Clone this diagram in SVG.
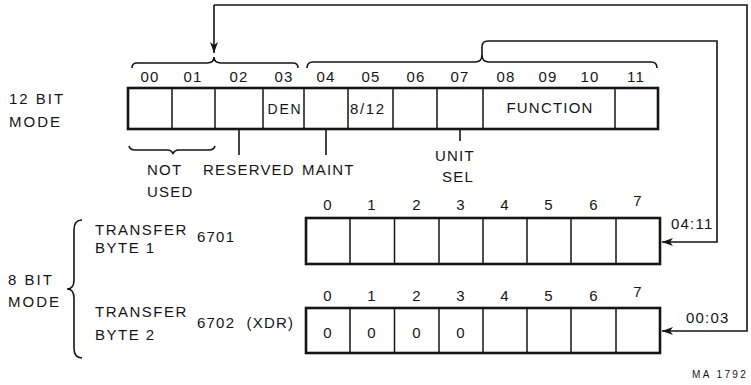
<svg xmlns="http://www.w3.org/2000/svg" width="751" height="385" viewBox="0 0 751 385">
<style>
text{font-family:"Liberation Sans",Arial,sans-serif;font-size:15px;fill:#151515;letter-spacing:1.2px}
.m{text-anchor:middle}
.box{fill:none;stroke:#151515;stroke-width:2.6}
.div{stroke:#151515;stroke-width:1.5;fill:none}
.ln{stroke:#151515;stroke-width:1.6;fill:none}
.wide{letter-spacing:2px}
.sm{font-size:10px;letter-spacing:2.4px}
</style>
<defs>
<marker id="ah" markerWidth="12" markerHeight="10" refX="11" refY="5" orient="auto" markerUnits="userSpaceOnUse">
<path d="M0,1 L11,5 L0,9 L3,5 Z" fill="#151515"/>
</marker>
</defs>
<rect width="751" height="385" fill="#fff"/>

<g id="mode-labels">
<text x="9" y="104" class="wide">12 BIT</text>
<text x="9" y="127" class="wide">MODE</text>
<text x="8" y="285" class="wide">8 BIT</text>
<text x="8" y="307" class="wide">MODE</text>
<path class="ln" d="M82,220 Q74,220 74,230 L74,280 Q74,289 67,289 Q74,289 74,298 L74,348 Q74,358 82,358"/>
</g>

<g id="reg12">
<rect class="box" x="128" y="88" width="530" height="41"/>
<path class="div" d="M172,88V129M215,88V129M263,88V129M304,88V129M348,88V129M393,88V129M437,88V129M483,88V129M615,88V129"/>
<text class="m" x="150" y="82">00</text>
<text class="m" x="193" y="82">01</text>
<text class="m" x="239" y="82">02</text>
<text class="m" x="284" y="82">03</text>
<text class="m" x="326" y="82">04</text>
<text class="m" x="371" y="82">05</text>
<text class="m" x="416" y="82">06</text>
<text class="m" x="460" y="82">07</text>
<text class="m" x="506" y="82">08</text>
<text class="m" x="548" y="82">09</text>
<text class="m" x="590" y="82">10</text>
<text class="m" x="636" y="82">11</text>
<text class="m" x="285" y="114" style="font-size:14px;letter-spacing:1.8px">DEN</text>
<text x="350" y="114" style="letter-spacing:1.6px">8/12</text>
<text class="m" x="550" y="113">FUNCTION</text>
</g>

<g id="reg12-notes">
<path class="ln" d="M239,129V155M326,129V155M460,129V141"/>
<path class="ln" d="M129,146 Q130,150 135,150 L167,150 Q172,150 173,154 Q174,150 179,150 L209,150 Q214,150 215,146"/>
<text x="147" y="175">NOT</text>
<text x="147" y="197">USED</text>
<text x="203" y="175">RESERVED</text>
<text x="302" y="175">MAINT</text>
<text x="435" y="161">UNIT</text>
<text x="442" y="182">SEL</text>
</g>

<g id="reg8a">
<rect class="box" x="306" y="218" width="354" height="46"/>
<path class="div" d="M350,218V264M394.5,218V264M439,218V264M483,218V264M527,218V264M571,218V264M616,218V264"/>
<text class="m" x="328" y="210">0</text>
<text class="m" x="372" y="210">1</text>
<text class="m" x="417" y="210">2</text>
<text class="m" x="461" y="210">3</text>
<text class="m" x="505" y="210">4</text>
<text class="m" x="549" y="210">5</text>
<text class="m" x="594" y="210">6</text>
<text class="m" x="638" y="206">7</text>
<text x="95" y="235" style="letter-spacing:1.5px">TRANSFER</text>
<text x="95" y="253" style="letter-spacing:1.5px">BYTE 1</text>
<text x="197" y="242">6701</text>
</g>

<g id="reg8b">
<rect class="box" x="306" y="308" width="354" height="45"/>
<path class="div" d="M350,308V353M394.5,308V353M439,308V353M483,308V353M527,308V353M571,308V353M616,308V353"/>
<text class="m" x="328" y="301">0</text>
<text class="m" x="372" y="301">1</text>
<text class="m" x="417" y="301">2</text>
<text class="m" x="461" y="301">3</text>
<text class="m" x="505" y="301">4</text>
<text class="m" x="549" y="301">5</text>
<text class="m" x="594" y="301">6</text>
<text class="m" x="638" y="297">7</text>
<text class="m" x="328" y="338">0</text>
<text class="m" x="372" y="338">0</text>
<text class="m" x="417" y="338">0</text>
<text class="m" x="461" y="338">0</text>
<text x="95" y="317" style="letter-spacing:1.5px">TRANSFER</text>
<text x="95" y="340" style="letter-spacing:1.5px">BYTE 2</text>
<text x="197" y="328" style="word-spacing:6px">6702 (XDR)</text>
</g>

<g id="connectors">
<path class="ln" d="M132,68 Q132,63 137,63 L207,63 Q214,63 214,57 Q214,63 221,63 L293,63 Q298,63 298,68"/>
<path class="ln" d="M307,68 Q307,62 313,62 L475,62 Q482,62 482,55 L482,47 Q482,41 488,41 L717,41 L717,242 L662,242" marker-end="url(#ah)"/>
<path class="ln" d="M482,55 Q482,62 489,62 L651,62 Q657,62 657,68"/>
<path class="ln" d="M214,5 L747,5 L747,331 L662,331" marker-end="url(#ah)"/>
<path class="ln" d="M214,5 L214,53" marker-end="url(#ah)"/>
<text x="671" y="229">04:11</text>
<text x="686" y="323">00:03</text>
</g>

<text x="692" y="378" class="sm">MA 1792</text>
</svg>
